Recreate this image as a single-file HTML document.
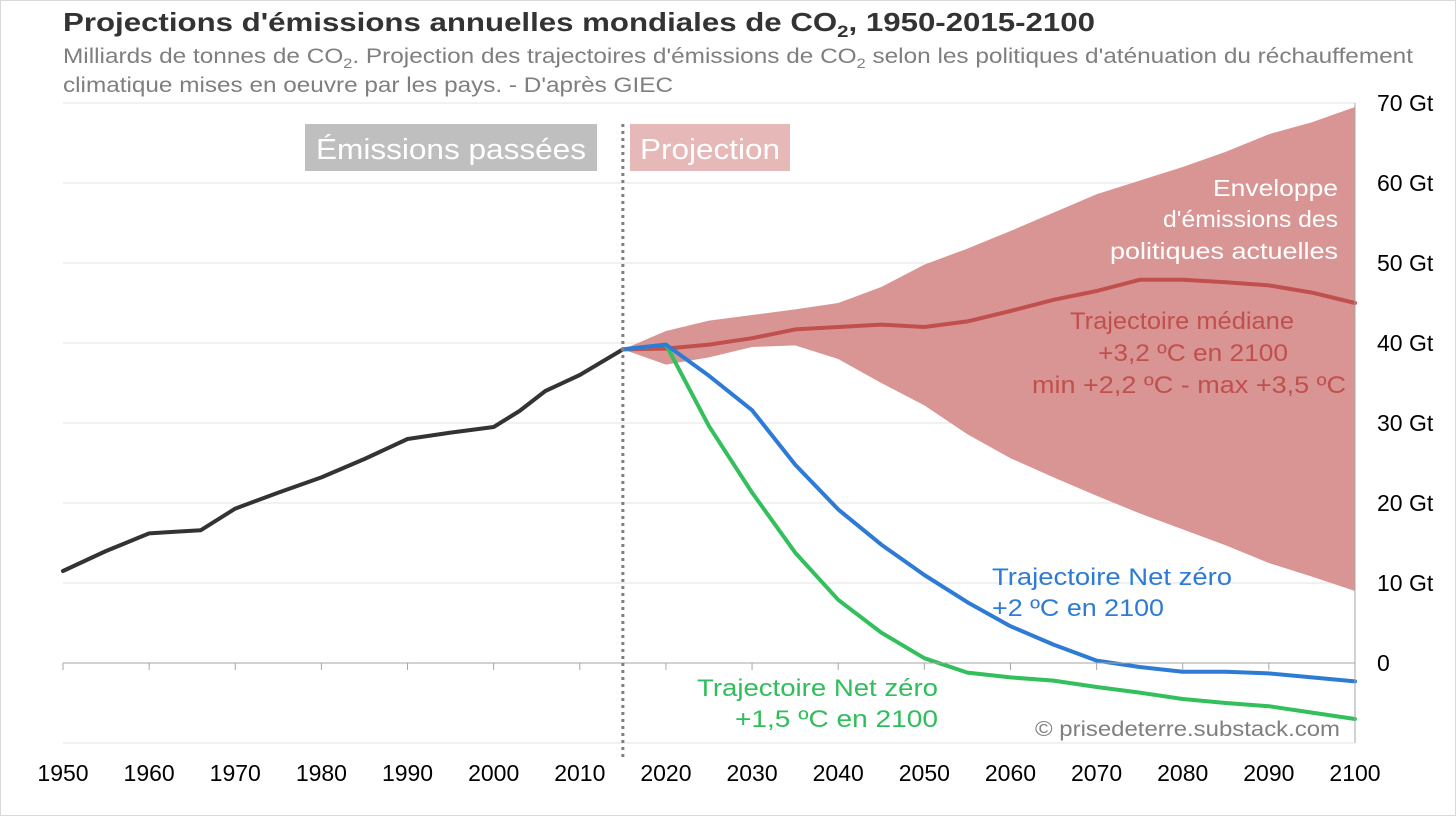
<!DOCTYPE html>
<html><head><meta charset="utf-8"><style>
html,body{margin:0;padding:0;background:#fff}
svg{display:block;font-family:"Liberation Sans",Arial,sans-serif}
</style></head><body>
<svg id="chart" width="1456" height="816" viewBox="0 0 1456 816">
<rect x="0.5" y="0.5" width="1455" height="815" fill="#fff" stroke="#d9d9d9"/>
<text x="63" y="31" font-size="26" font-weight="bold" fill="#333" textLength="1032" lengthAdjust="spacingAndGlyphs">Projections d'émissions annuelles mondiales de CO<tspan font-size="17" dy="6">2</tspan><tspan dy="-6">, 1950-2015-2100</tspan></text>
<text x="63" y="63" font-size="21" fill="#7f7f7f" textLength="1350" lengthAdjust="spacingAndGlyphs">Milliards de tonnes de CO<tspan font-size="14" dy="5">2</tspan><tspan dy="-5">. Projection des trajectoires d'émissions de CO</tspan><tspan font-size="14" dy="5">2</tspan><tspan dy="-5"> selon les politiques d'aténuation du réchauffement</tspan></text>
<text x="63" y="92" font-size="21" fill="#7f7f7f" textLength="610" lengthAdjust="spacingAndGlyphs">climatique mises en oeuvre par les pays. - D'après GIEC</text>
<g id="grid"></g>
<g id="band"></g>
<g id="lines"></g>
<g id="axes"></g>
<rect x="305" y="124" width="292" height="47" fill="#bfbfbf"/>
<text x="451" y="159" font-size="29" fill="#fff" text-anchor="middle" textLength="270" lengthAdjust="spacingAndGlyphs">Émissions passées</text>
<rect x="630" y="124" width="160" height="47" fill="#e6b8b7"/>
<text x="710" y="159" font-size="29" fill="#fff" text-anchor="middle" textLength="140" lengthAdjust="spacingAndGlyphs">Projection</text>
<g font-size="23" fill="#fff" text-anchor="end">
<text x="1338" y="196" textLength="125" lengthAdjust="spacingAndGlyphs">Enveloppe</text><text x="1338" y="227" textLength="175" lengthAdjust="spacingAndGlyphs">d'émissions des</text><text x="1338" y="259" textLength="228" lengthAdjust="spacingAndGlyphs">politiques actuelles</text></g>
<g font-size="24" fill="#c0504d" text-anchor="end">
<text x="1294" y="329" textLength="224" lengthAdjust="spacingAndGlyphs">Trajectoire médiane</text><text x="1288" y="361" textLength="190" lengthAdjust="spacingAndGlyphs">+3,2 ºC en 2100</text><text x="1346" y="393" textLength="314" lengthAdjust="spacingAndGlyphs">min +2,2 ºC - max +3,5 ºC</text></g>
<g font-size="24" fill="#2e7bd6">
<text x="992" y="585" textLength="240" lengthAdjust="spacingAndGlyphs">Trajectoire Net zéro</text><text x="992" y="616" textLength="172" lengthAdjust="spacingAndGlyphs">+2 ºC en 2100</text></g>
<g font-size="24" fill="#2ebf5a" text-anchor="end">
<text x="938" y="696" textLength="241" lengthAdjust="spacingAndGlyphs">Trajectoire Net zéro</text><text x="938" y="727" textLength="203" lengthAdjust="spacingAndGlyphs">+1,5 ºC en 2100</text></g>
<text x="1340" y="736" font-size="21" fill="#7f7f7f" text-anchor="end" textLength="305" lengthAdjust="spacingAndGlyphs">© prisedeterre.substack.com</text>
</svg>
<script>
const histYears=[1950,1955,1960,1963,1966,1970,1975,1980,1985,1990,1995,2000,2003,2006,2010,2015];
const histVals=[11.5,14,16.2,16.4,16.6,19.3,21.3,23.2,25.5,28,28.8,29.5,31.5,34,36,39.2];
const projYears=[2015,2020,2025,2030,2035,2040,2045,2050,2055,2060,2065,2070,2075,2080,2085,2090,2095,2100];
const medianVals=[39.2,39.3,39.8,40.6,41.7,42,42.3,42,42.7,44,45.4,46.5,47.9,47.9,47.6,47.2,46.3,45];
const upperVals=[39.2,41.5,42.8,43.5,44.2,45,47,49.8,51.8,54,56.3,58.6,60.3,62,63.9,66.1,67.6,69.5];
const lowerVals=[39.2,37.3,38.2,39.5,39.7,38,35,32.2,28.6,25.6,23.2,20.9,18.7,16.7,14.7,12.5,10.8,9];
const blueVals=[39.2,39.8,35.9,31.6,24.8,19.2,14.8,11,7.6,4.6,2.3,0.3,-0.5,-1.1,-1.1,-1.3,-1.8,-2.3];
const greenVals=[39.2,39.8,29.6,21.3,13.8,7.9,3.8,0.6,-1.2,-1.8,-2.2,-3,-3.7,-4.5,-5,-5.4,-6.2,-7];
const yTicks=[70,60,50,40,30,20,10,0];
const yTickLabels=["70 Gt","60 Gt","50 Gt","40 Gt","30 Gt","20 Gt","10 Gt","0"];
const xTicks=[1950,1960,1970,1980,1990,2000,2010,2020,2030,2040,2050,2060,2070,2080,2090,2100];
const NS="http://www.w3.org/2000/svg";
const X=y=>63+(y-1950)*(1355-63)/150;
const Y=v=>663-v*8;
function mk(tag,attrs,parent){const e=document.createElementNS(NS,tag);for(const k in attrs)e.setAttribute(k,attrs[k]);parent.appendChild(e);return e;}
const grid=document.getElementById('grid'),axes=document.getElementById('axes'),band=document.getElementById('band'),lines=document.getElementById('lines');
yTicks.forEach((t,i)=>{
 if(t!==0){const g=mk('line',{x1:63,x2:1355,y1:Y(t),y2:Y(t),stroke:'#e3e3e3','stroke-width':1},grid);
 
 }
 const l=mk('text',{x:1377,y:Y(t)+8,'font-size':23,fill:'#000'},axes);l.textContent=yTickLabels[i];
 
 
});
const bl=mk('line',{x1:63,x2:1355,y1:Y(-10),y2:Y(-10),stroke:'#e3e3e3'},grid);


const xa=mk('line',{x1:63,x2:1355,y1:Y(0),y2:Y(0),stroke:'#a6a6a6'},axes);


const ya=mk('line',{x1:1355,x2:1355,y1:Y(70),y2:Y(-10),stroke:'#a6a6a6'},axes);


xTicks.forEach(t=>{
 const tk=mk('line',{x1:X(t),x2:X(t),y1:Y(0),y2:Y(0)+7,stroke:'#a6a6a6'},axes);
 
 
 const l=mk('text',{x:X(t),y:781,'font-size':23,'text-anchor':'middle',fill:'#000'},axes);l.textContent=t;
 
 
});
const dv=mk('line',{x1:X(2015),x2:X(2015),y1:124,y2:760,stroke:'#7f7f7f','stroke-width':3,'stroke-dasharray':'3 4'},axes);


const up=projYears.map((y,i)=>X(y)+','+Y(upperVals[i]));
const lo=projYears.map((y,i)=>X(y)+','+Y(lowerVals[i])).reverse();
const env=mk('polygon',{points:up.concat(lo).join(' '),fill:'#d99594'},band);


function line(xs,vs,color,name){const p=mk('polyline',{points:xs.map((y,i)=>X(y)+','+Y(vs[i])).join(' '),fill:'none',stroke:color,'stroke-width':4,'stroke-linejoin':'round','stroke-linecap':'round'},lines);
 
 }
line(histYears,histVals,'#333','historical-emissions-line');
line(projYears,medianVals,'#c0504d','median-trajectory-line');
line(projYears,greenVals,'#33bf5c','net-zero-1-5-line');
line(projYears,blueVals,'#2e7bd6','net-zero-2-line');
</script>
</body></html>
